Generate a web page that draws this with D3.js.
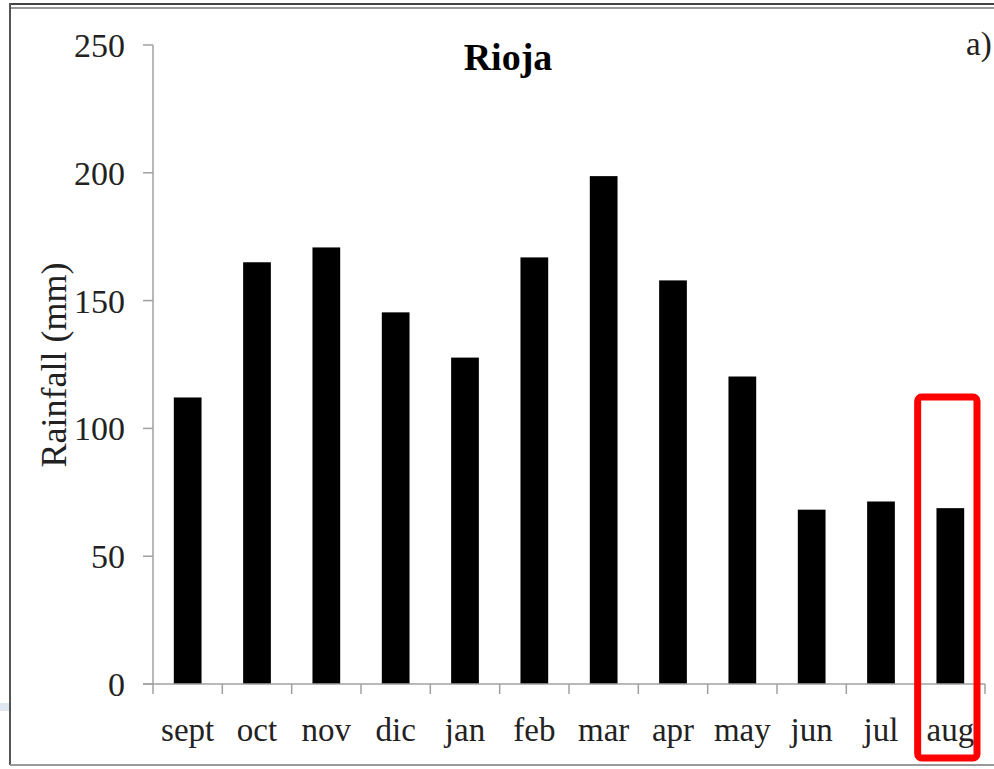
<!DOCTYPE html>
<html>
<head>
<meta charset="utf-8">
<script src="https://cdn.jsdelivr.net/npm/d3@7"></script>
<style>
  html, body { margin: 0; padding: 0; background: #fff; }
  svg text { font-family: "Liberation Serif", "Times New Roman", serif; fill: #222; }
</style>
</head>
<body>
<div id="chart"></div>
<script>
// data
var months = ["sept", "oct", "nov", "dic", "jan", "feb", "mar", "apr", "may", "jun", "jul", "aug"];
var rainfall = [112.1, 165.0, 170.8, 145.4, 127.7, 166.9, 198.7, 157.9, 120.3, 68.2, 71.4, 68.8];
var yTicks = [0, 50, 100, 150, 200, 250];
var highlighted = "aug";

window.onload = () => {
  var W = 994, H = 769;
  var margin = { top: 45, right: 9, bottom: 85, left: 153 };

  var svg = d3.select("#chart").append("svg")
    .attr("width", W)
    .attr("height", H);

  // outer frame of the slide
  svg.append("rect")
    .attr("x", 0).attr("y", 703).attr("width", 9).attr("height", 8)
    .attr("fill", "#dfe7f1");
  svg.append("line")
    .attr("x1", 10).attr("x2", W).attr("y1", 4).attr("y2", 4)
    .attr("stroke", "#444").attr("stroke-width", 2);
  svg.append("line")
    .attr("x1", 10).attr("x2", W).attr("y1", 8).attr("y2", 8)
    .attr("stroke", "#999").attr("stroke-width", 2);
  svg.append("line")
    .attr("x1", 10).attr("x2", 10).attr("y1", 3).attr("y2", 765)
    .attr("stroke", "#555").attr("stroke-width", 2);
  svg.append("line")
    .attr("x1", 10).attr("x2", W).attr("y1", 765).attr("y2", 765)
    .attr("stroke", "#999").attr("stroke-width", 2);

  var x = d3.scaleBand()
    .domain(months)
    .range([margin.left, W - margin.right])
    .padding(0);

  var y = d3.scaleLinear()
    .domain([0, 250])
    .range([H - margin.bottom, margin.top]);

  var axisColor = "#a0a0a0";
  var y0 = y(0);

  // y axis
  svg.append("line")
    .attr("x1", margin.left).attr("x2", margin.left)
    .attr("y1", y(250)).attr("y2", y0)
    .attr("stroke", axisColor).attr("stroke-width", 1.5);

  svg.selectAll(".ytick")
    .data(yTicks)
    .enter().append("line")
    .attr("class", "ytick")
    .attr("x1", margin.left - 10).attr("x2", margin.left)
    .attr("y1", d => y(d)).attr("y2", d => y(d))
    .attr("stroke", axisColor).attr("stroke-width", 1.5);

  svg.selectAll(".ylab")
    .data(yTicks)
    .enter().append("text")
    .attr("class", "ylab")
    .attr("x", 125)
    .attr("y", d => y(d))
    .attr("dy", "0.35em")
    .attr("text-anchor", "end")
    .style("font-size", "34px")
    .text(d => d);

  // bars
  var barW = x.bandwidth() * 0.4;
  svg.selectAll(".bar")
    .data(months)
    .enter().append("rect")
    .attr("class", "bar")
    .attr("x", (d) => x(d) + (x.bandwidth() - barW) / 2)
    .attr("y", (d, i) => y(rainfall[i]))
    .attr("width", barW)
    .attr("height", (d, i) => y0 - y(rainfall[i]))
    .attr("fill", "#000");

  // x axis
  svg.append("line")
    .attr("x1", margin.left - 10).attr("x2", x.range()[1])
    .attr("y1", y0).attr("y2", y0)
    .attr("stroke", axisColor).attr("stroke-width", 1.5);

  var bounds = months.map(d => x(d)).concat([x.range()[1]]);
  svg.selectAll(".xtick")
    .data(bounds)
    .enter().append("line")
    .attr("class", "xtick")
    .attr("x1", d => d).attr("x2", d => d)
    .attr("y1", y0).attr("y2", y0 + 10)
    .attr("stroke", axisColor).attr("stroke-width", 1.5);

  svg.selectAll(".xlab")
    .data(months)
    .enter().append("text")
    .attr("class", "xlab")
    .attr("x", d => x(d) + x.bandwidth() / 2)
    .attr("y", 741)
    .attr("text-anchor", "middle")
    .style("font-size", "33px")
    .text(d => d);

  // titles
  svg.append("text")
    .attr("x", 508).attr("y", 70)
    .attr("text-anchor", "middle")
    .style("font-size", "38px")
    .style("font-weight", "bold")
    .style("fill", "#000")
    .text("Rioja");

  svg.append("text")
    .attr("x", 966).attr("y", 55)
    .style("font-size", "33px")
    .text("a)");

  svg.append("text")
    .attr("transform", "translate(66,365) rotate(-90)")
    .attr("text-anchor", "middle")
    .style("font-size", "36px")
    .text("Rainfall (mm)");

  // red highlight box
  svg.append("rect")
    .attr("x", x(highlighted) + 2)
    .attr("y", 397)
    .attr("width", x.bandwidth() - 10)
    .attr("height", 361)
    .attr("rx", 4)
    .attr("fill", "none")
    .attr("stroke", "#ff0000")
    .attr("stroke-width", 7);
};
</script>
</body>
</html>
